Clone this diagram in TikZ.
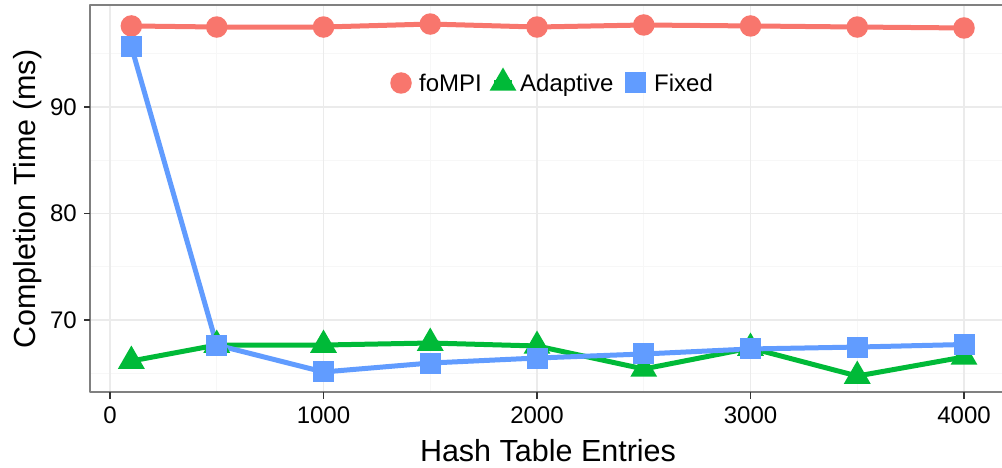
\documentclass[tikz,border=0pt]{standalone}
\usepackage{fontspec}
\setmainfont{Liberation Sans}
\usetikzlibrary{shapes.geometric}
\definecolor{fompi}{HTML}{F8766D}
\definecolor{adapt}{HTML}{00BA38}
\definecolor{fixed}{HTML}{619CFF}
\definecolor{gridmaj}{HTML}{EBEBEB}
\definecolor{gridmin}{HTML}{F7F7F7}

\begin{document}
\begin{tikzpicture}[x=1pt, y=1pt, line join=round]
	\tikzstyle{ptF}    = [circle, minimum size=21.5pt, inner sep=0pt, fill=fompi]
	\tikzstyle{ptA}    = [regular polygon, regular polygon sides=3, minimum size=31pt, inner sep=0pt, fill=adapt]
	\tikzstyle{ptX}    = [rectangle, minimum size=21pt, inner sep=0pt, fill=fixed]
	\tikzstyle{ticklab} = [font=\fontsize{24}{28}\selectfont, inner sep=0pt]
	\tikzstyle{axtitle} = [font=\fontsize{30.5}{36}\selectfont, inner sep=0pt]
	\tikzstyle{series} = [line width=5pt]

	\useasboundingbox (0,0) rectangle (1002,467);
	\fill[white] (0,0) rectangle (1002,467);

	\begin{scope}[shift={(110,-598.5)}, x=0.2135pt, y=10.65pt]
		% grid
		\foreach \x in {500,1500,2500,3500}
			\draw[gridmin, line width=1pt] (\x,63.24) -- (\x,99.58);
		\foreach \y in {65,75,85,95}
			\draw[gridmin, line width=1pt] (-93.7,\y) -- (4183,\y);
		\foreach \x in {0,1000,2000,3000,4000}
			\draw[gridmaj, line width=1.2pt] (\x,63.24) -- (\x,99.58);
		\foreach \y in {70,80,90}
			\draw[gridmaj, line width=1.2pt] (-93.7,\y) -- (4183,\y);

		% panel border
		\draw[black!50, line width=1.2pt] (4183,99.58) -- (-93.7,99.58) -- (-93.7,63.24) -- (4183,63.24);

		% ticks and labels
		\foreach \x in {0,1000,2000,3000,4000} {
			\draw[black!80, line width=1.2pt] (\x,63.24) -- ++(0,-7pt);
			\node[ticklab, anchor=north, yshift=-15pt] (xl\x) at (\x,63.24) {\x};
		}
		\foreach \y in {70,80,90} {
			\draw[black!80, line width=1.2pt] (-93.7,\y) -- ++(-6pt,0);
			\node[ticklab, anchor=east, xshift=-13pt] (yl\y) at (-93.7,\y) {\y};
		}

		% data points
		\foreach \i/\x/\f/\a/\b in {1/100/97.61/66.15/95.68, 2/500/97.51/67.65/67.65, 3/1000/97.51/67.65/65.12,
				4/1500/97.79/67.84/65.96, 5/2000/97.51/67.56/66.43, 6/2500/97.70/65.40/66.81,
				7/3000/97.61/67.37/67.28, 8/3500/97.51/64.74/67.46, 9/4000/97.42/66.53/67.70} {
			\coordinate (f\i) at (\x,\f);
			\coordinate (a\i) at (\x,\a);
			\coordinate (b\i) at (\x,\b);
		}

		\draw[series, fompi] (f1) \foreach \i in {2,...,9} { -- (f\i) };
		\draw[series, adapt] (a1) \foreach \i in {2,...,9} { -- (a\i) };
		\draw[series, fixed] (b1) \foreach \i in {2,...,9} { -- (b\i) };

		\foreach \i in {1,...,9}
			\node[ptF] (mf\i) at (f\i) {};
		\foreach \i in {1,...,9}
			\node[ptA] (ma\i) at (a\i) {};
		\foreach \i in {1,...,9}
			\node[ptX] (mb\i) at (b\i) {};
	\end{scope}

	% legend
	\foreach \k/\styl/\col/\kx/\tx/\txt in {f/ptF/fompi/401/419/foMPI, a/ptA/adapt/503/520/Adaptive, b/ptX/fixed/635/654/Fixed} {
		\coordinate (k\k) at (\kx,384);
		\draw[series, \col] ([xshift=-9pt]k\k) -- ([xshift=9pt]k\k);
		\node[\styl] (lk\k) at (k\k) {};
		\node[ticklab, anchor=base west] (lt\k) at (\tx,375) {\txt};
	}

	% axis titles
	\node[axtitle, anchor=base] (xtitle) at (548,5.5) {Hash Table Entries};
	\node[axtitle, rotate=90] (ytitle) at (28,268) {Completion Time (ms)};
\end{tikzpicture}
\end{document}
